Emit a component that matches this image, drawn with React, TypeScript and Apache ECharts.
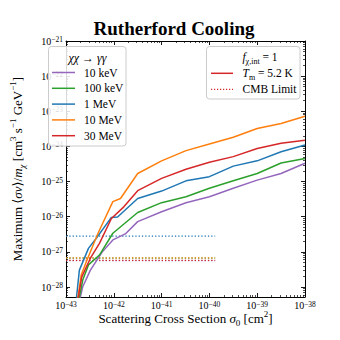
import React, { useEffect, useRef } from 'react';
import * as echarts from 'echarts';

// ---------- data ----------
const massLabels = ['10 keV', '100 keV', '1 MeV', '10 MeV', '30 MeV'];
const colors = ['#9467bd', '#2ca02c', '#1f77b4', '#ff7f0e', '#d62728'];

// scattering cross section sigma_0 [cm^2] and maximum <sigma v>/m_chi for each mass
const sigma10keV = [1.76e-43, 2.24e-43, 3.24e-43, 5.75e-43, 9.55e-43, 1.74e-42, 3.16e-42, 1e-41, 3.24e-41, 1e-40, 3.16e-40, 1e-39, 3.16e-39, 1e-38];
const sv10keV = [2.5e-29, 1.02e-28, 3.02e-28, 1.0e-27, 2.19e-27, 3.24e-27, 7.24e-27, 1.38e-26, 2.51e-26, 3.72e-26, 6.46e-26, 1.1e-25, 1.7e-25, 3.31e-25];

const sigma100keV = [1.72e-43, 2.24e-43, 2.95e-43, 5.01e-43, 9.55e-43, 3.16e-42, 1e-41, 3.24e-41, 1e-40, 3.16e-40, 1e-39, 3.16e-39, 1e-38];
const sv100keV = [2.5e-29, 1.58e-28, 4.27e-28, 8.13e-28, 3.39e-27, 1.32e-26, 2.51e-26, 3.72e-26, 6.46e-26, 1.05e-25, 1.7e-25, 3.39e-25, 4.57e-25];

const sigma1MeV = [1.57e-43, 1.905e-43, 2.95e-43, 4.27e-43, 8.91e-43, 1.2e-42, 3.16e-42, 1e-41, 3.24e-41, 1e-40, 3.16e-40, 1e-39, 3.16e-39, 1e-38];
const sv1MeV = [2.5e-29, 3.02e-28, 1.26e-27, 2.4e-27, 9.55e-27, 9.8e-27, 3.31e-26, 5.37e-26, 1.05e-25, 1.38e-25, 2.75e-25, 3.89e-25, 7.08e-25, 1.1e-24];

const sigma10MeV = [1.64e-43, 2.09e-43, 2.75e-43, 4.68e-43, 9.55e-43, 1.38e-42, 3.16e-42, 1e-41, 3.24e-41, 1e-40, 3.16e-40, 1e-39, 3.16e-39, 1e-38];
const sv10MeV = [2.5e-29, 2.24e-28, 5.89e-28, 3.39e-27, 2.69e-26, 3.31e-26, 1.7e-25, 3.89e-25, 7.59e-25, 1.17e-24, 1.82e-24, 3.24e-24, 4.47e-24, 7.24e-24];

const sigma30MeV = [1.66e-43, 2.14e-43, 3.24e-43, 5.01e-43, 8.91e-43, 1.62e-42, 3.16e-42, 1e-41, 3.24e-41, 1e-40, 3.16e-40, 1e-39, 3.16e-39, 1e-38];
const sv30MeV = [2.5e-29, 1.95e-28, 6.61e-28, 1.74e-27, 8.91e-27, 1.91e-26, 5.5e-26, 1.23e-25, 2.24e-25, 3.55e-25, 5.13e-25, 8.71e-25, 1.23e-24, 1.51e-24];

// CMB limits (horizontal dotted lines), per mass
const cmbLimits = [5.62e-28, 6.61e-28, 2.82e-27, 6.76e-28, 5.75e-28];
const cmbSigmaRange = [1e-43, 1.32e-40];

// axis decades (tick labels 10^n)
const xTickExponents = [-43, -42, -41, -40, -39, -38];
const yTickExponents = [-28, -27, -26, -25, -24, -23, -22, -21];
const X_MIN = 1e-43;
const X_MAX = 1e-38;
const Y_MIN = 5.2e-29;
const Y_MAX = 1e-21;

const sigmaArrays = [sigma10keV, sigma100keV, sigma1MeV, sigma10MeV, sigma30MeV];
const svArrays = [sv10keV, sv100keV, sv1MeV, sv10MeV, sv30MeV];

// ---------- helpers (log10 scale mapping) ----------
const lg = (v: number) => Math.log10(v);

const minorExps = (majors: number[], lo: number, hi: number) => {
  const out: number[] = [];
  const decades = [majors[0] - 1, ...majors];
  decades.forEach((d) => {
    for (let k = 2; k <= 9; k++) {
      const v = d + Math.log10(k);
      if (v > lo && v < hi) out.push(v);
    }
  });
  return out;
};

// ---------- styling ----------
const FONT = "'Liberation Serif', 'DejaVu Serif', serif";

const tickRich = {
  b: { fontFamily: FONT, fontSize: 10, lineHeight: 11, color: '#000' },
  s: { fontFamily: FONT, fontSize: 7.5, lineHeight: 4, verticalAlign: 'top', color: '#000' },
};
const powLabel = (v: number) => {
  const e = Math.round(v);
  return `{b|10}{s|${e < 0 ? '\u2212' : ''}${Math.abs(e)}}`;
};

const nameRich = {
  r: { fontFamily: FONT, fontSize: 13, lineHeight: 18, color: '#000' },
  i: { fontFamily: FONT, fontSize: 13, lineHeight: 18, fontStyle: 'italic', color: '#000' },
  sup: { fontFamily: FONT, fontSize: 9, lineHeight: 8, verticalAlign: 'top', color: '#000' },
  sub: { fontFamily: FONT, fontSize: 9, lineHeight: 10, verticalAlign: 'bottom', color: '#000' },
  isub: { fontFamily: FONT, fontSize: 9, lineHeight: 10, verticalAlign: 'bottom', fontStyle: 'italic', color: '#000' },
};

const axisLineStyle = { color: '#000', width: 1 };

function makeAxes(dim: 'x' | 'y') {
  const isX = dim === 'x';
  const majors = isX ? xTickExponents : yTickExponents;
  const min = lg(isX ? X_MIN : Y_MIN);
  const max = lg(isX ? X_MAX : Y_MAX);
  const minors = minorExps(majors, min, max);
  const base: any = {
    type: 'value',
    min,
    max,
    scale: true,
    splitLine: { show: false },
    minorTick: { show: false },
    minorSplitLine: { show: false },
    silent: true,
  };
  const pos1 = isX ? 'bottom' : 'left';
  const pos2 = isX ? 'top' : 'right';
  const major = (pos: string, withLabels: boolean): any => ({
    ...base,
    position: pos,
    axisLine: { show: true, onZero: false, lineStyle: axisLineStyle },
    axisTick: { show: true, inside: true, length: 4, customValues: majors, lineStyle: { color: '#000', width: 0.9 } },
    axisLabel: withLabels
      ? { show: true, customValues: majors, formatter: powLabel, rich: tickRich, margin: 3, color: '#000' }
      : { show: false },
  });
  const minor = (pos: string): any => ({
    ...base,
    position: pos,
    axisLine: { show: false, onZero: false },
    axisTick: { show: true, inside: true, length: 2, customValues: minors, lineStyle: { color: '#000', width: 0.7 } },
    axisLabel: { show: false },
  });
  const main = major(pos1, true);
  main.nameMoveOverlap = false;
  if (isX) {
    main.name = '{r|Scattering Cross Section }{i|\u03c3}{sub|0}{r| [cm}{sup|2}{r|]}';
    main.nameLocation = 'middle';
    main.nameGap = 12;
    main.nameTextStyle = { rich: nameRich };
  } else {
    main.name = '{r|Maximum \u27e8}{i|\u03c3v}{r|\u27e9/}{i|m}{isub|\u03c7}{r| [cm}{sup|3}{r| s}{sup|\u22121}{r| GeV}{sup|\u22121}{r|]}';
    main.nameLocation = 'middle';
    main.nameGap = 40;
    main.nameRotate = 90;
    main.nameTextStyle = { rich: nameRich };
  }
  return [main, minor(pos1), major(pos2, false), minor(pos2)];
}

function legendGraphics(): any[] {
  const g: any[] = [];
  const boxStyle = { fill: 'rgba(255,255,255,0.85)', stroke: '#cccccc', lineWidth: 1 };
  // left legend
  g.push({ type: 'rect', shape: { x: 48.5, y: 46.5, width: 77.5, height: 99.5, r: 3 }, style: boxStyle, z: 50 });
  g.push({
    type: 'text', x: 87.5, y: 58, z: 51,
    style: { text: '\u03c7\u03c7 \u2192 \u03b3\u03b3', fontFamily: FONT, fontStyle: 'italic', fontSize: 12, align: 'center', verticalAlign: 'middle', fill: '#000' },
  });
  massLabels.forEach((lab, i) => {
    const y = 72.5 + i * 15.8;
    g.push({ type: 'line', shape: { x1: 52, y1: y, x2: 75, y2: y }, style: { stroke: colors[i], lineWidth: 1.5 }, z: 51 });
    g.push({
      type: 'text', x: 84, y, z: 51,
      style: { text: lab, fontFamily: FONT, fontSize: 11.5, align: 'left', verticalAlign: 'middle', fill: '#000' },
    });
  });
  // right legend
  g.push({ type: 'rect', shape: { x: 206.5, y: 46.5, width: 93.5, height: 52.5, r: 3 }, style: boxStyle, z: 50 });
  const legRich = {
    r: { fontFamily: FONT, fontSize: 11.5, lineHeight: 16, fill: '#000' },
    i: { fontFamily: FONT, fontSize: 11.5, lineHeight: 16, fontStyle: 'italic', fill: '#000' },
    sub: { fontFamily: FONT, fontSize: 8, lineHeight: 9, verticalAlign: 'bottom', fill: '#000' },
  };
  g.push({
    type: 'text', x: 260, y: 57, z: 51,
    style: { text: '{i|f}{sub|\u03c7,int}{r| = 1}', rich: legRich, align: 'center', verticalAlign: 'middle' },
  });
  g.push({ type: 'line', shape: { x1: 211, y1: 73.3, x2: 233, y2: 73.3 }, style: { stroke: colors[4], lineWidth: 1.5 }, z: 51 });
  g.push({
    type: 'text', x: 242.5, y: 73.3, z: 51,
    style: { text: '{i|T}{sub|m}{r| = 5.2 K}', rich: legRich, align: 'left', verticalAlign: 'middle' },
  });
  g.push({ type: 'line', shape: { x1: 211, y1: 89.3, x2: 233, y2: 89.3 }, style: { stroke: colors[4], lineWidth: 1.2, lineDash: [1.2, 1.8] }, z: 51 });
  g.push({
    type: 'text', x: 242.5, y: 89.3, z: 51,
    style: { text: 'CMB Limit', fontFamily: FONT, fontSize: 11.5, align: 'left', verticalAlign: 'middle', fill: '#000' },
  });
  // title
  g.push({
    type: 'text', x: 174, y: 28, z: 51,
    style: { text: 'Rutherford Cooling', fontFamily: FONT, fontWeight: 'bold', fontSize: 19, align: 'center', verticalAlign: 'middle', fill: '#000' },
  });
  return g;
}

export default function App() {
  const ref = useRef<HTMLDivElement>(null);
  useEffect(() => {
    if (!ref.current) return;
    const chart = echarts.init(ref.current, undefined, { renderer: 'svg' });
    const cmbSeries = cmbLimits.map((lim, i) => ({
      type: 'line',
      name: massLabels[i] + ' CMB',
      data: cmbSigmaRange.map((x) => [lg(x), lg(lim)]),
      symbol: 'none',
      showSymbol: false,
      silent: true,
      lineStyle: { color: colors[i], width: 1.3, type: [1.3, 2.0] },
      z: 2,
    }));
    const curveSeries = massLabels.map((name, i) => ({
      type: 'line',
      name,
      data: sigmaArrays[i].map((x, j) => [lg(x), lg(svArrays[i][j])]),
      symbol: 'none',
      showSymbol: false,
      silent: true,
      clip: true,
      lineStyle: { color: colors[i], width: 1.5 },
      z: 3,
    }));
    chart.setOption({
      animation: false,
      backgroundColor: '#fff',
      grid: { left: 43, right: 35, top: 41, bottom: 43, containLabel: false },
      xAxis: makeAxes('x'),
      yAxis: makeAxes('y'),
      series: [...cmbSeries, ...curveSeries],
      graphic: legendGraphics(),
    });
    return () => chart.dispose();
  }, []);
  return <div ref={ref} style={{ width: 340, height: 340, position: 'absolute', left: 0, top: 0 }} />;
}
